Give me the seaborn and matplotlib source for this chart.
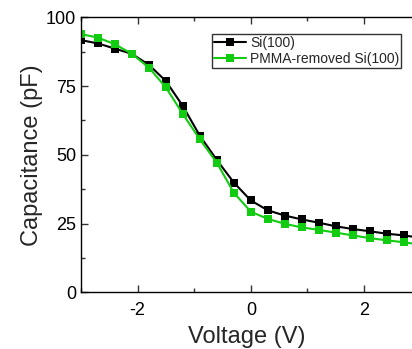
import matplotlib.pyplot as plt
import pandas as pd
import seaborn as sns
from matplotlib.ticker import MultipleLocator

# Data
voltage = [-3.0, -2.7, -2.4, -2.1, -1.8, -1.5, -1.2, -0.9, -0.6, -0.3,
           0.0, 0.3, 0.6, 0.9, 1.2, 1.5, 1.8, 2.1, 2.4, 2.7, 3.0]
cap_si = [91.7, 90.5, 88.6, 86.7, 82.7, 76.8, 67.7, 56.9, 48.1, 39.9,
          33.4, 29.8, 27.9, 26.5, 25.3, 24.0, 23.0, 22.2, 21.3, 20.7, 19.8]
cap_pmma = [93.9, 92.6, 90.2, 86.7, 81.7, 74.5, 64.8, 55.6, 47.1, 36.2,
            29.3, 26.7, 24.9, 23.6, 22.7, 21.7, 20.7, 19.7, 18.9, 18.2, 17.3]
labels = ['Si(100)', 'PMMA-removed Si(100)']

df = pd.concat([
    pd.DataFrame({'Voltage': voltage, 'Capacitance': cap_si, 'sample': labels[0]}),
    pd.DataFrame({'Voltage': voltage, 'Capacitance': cap_pmma, 'sample': labels[1]}),
])

sns.set_style('ticks')
plt.rcParams['font.family'] = ['Liberation Sans', 'DejaVu Sans']
plt.rcParams['axes.unicode_minus'] = False

fig = plt.figure(figsize=(4.12, 3.49), dpi=100)
ax = fig.add_axes([0.1966, 0.1625, 0.8034, 0.7879])

sns.lineplot(data=df, x='Voltage', y='Capacitance', hue='sample',
             palette={labels[0]: 'black', labels[1]: '#11cc11'},
             marker='s', markersize=6, markeredgewidth=0, linewidth=1.5,
             ax=ax)

ax.set_xlim(-3, 2.847)
ax.set_ylim(0, 100)
ax.xaxis.set_major_locator(MultipleLocator(2))
ax.xaxis.set_minor_locator(MultipleLocator(1))
ax.yaxis.set_major_locator(MultipleLocator(25))
ax.yaxis.set_minor_locator(MultipleLocator(12.5))
ax.tick_params(which='both', direction='in', top=True, labelsize=13, width=1,
               colors='#333333', labelcolor='black')
ax.tick_params(which='major', length=5)
ax.tick_params(which='minor', length=3)
ax.tick_params(axis='x', pad=7)
ax.spines['right'].set_visible(False)
for s in ['left', 'bottom', 'top']:
    ax.spines[s].set_linewidth(1)
    ax.spines[s].set_color('black')

ax.set_xlabel('Voltage (V)', fontsize=17, labelpad=5)
ax.set_ylabel('Capacitance (pF)', fontsize=17, labelpad=2)

leg = ax.legend(loc='upper left', bbox_to_anchor=(0.395, 0.939), borderaxespad=0,
                fontsize=10, handlelength=2.3, handletextpad=0.3, borderpad=0.15,
                labelspacing=0.1, fancybox=False, frameon=True, title=None)
leg.get_frame().set_edgecolor('black')
leg.get_frame().set_linewidth(1)

fig.savefig('out.png', dpi=100)
